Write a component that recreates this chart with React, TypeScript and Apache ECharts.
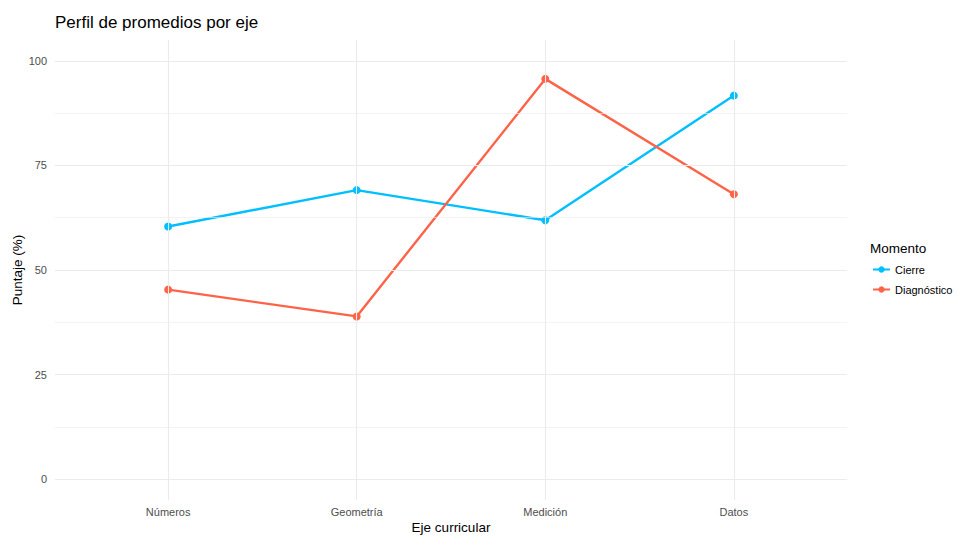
import React, { useEffect, useRef } from "react";
import * as echarts from "echarts";

const categories = ["Números", "Geometría", "Medición", "Datos"];
const cierre = [60.4, 69.1, 61.9, 91.7];
const diagnostico = [45.3, 38.9, 95.7, 68.1];
const yTicks = [0, 25, 50, 75, 100];
const yMinor = [12.5, 37.5, 62.5, 87.5];

const FONT = "Liberation Sans, Arial, sans-serif";
const GRID_COLOR = "#EBEBEB";

export default function App() {
  const ref = useRef<HTMLDivElement>(null);
  useEffect(() => {
    document.body.style.margin = "0";
    if (!ref.current) return;
    const chart = echarts.init(ref.current, undefined, { renderer: "svg" });
    const gridLines: any[] = [
      ...yTicks.map((v) => ({ yAxis: v, lineStyle: { color: GRID_COLOR, width: 1.1, type: "solid" } })),
      ...yMinor.map((v) => ({ yAxis: v, lineStyle: { color: GRID_COLOR, width: 0.6, type: "solid" } })),
      ...categories.map((_, i) => ({ xAxis: i, lineStyle: { color: GRID_COLOR, width: 1.1, type: "solid" } })),
    ];
    chart.setOption({
      animation: false,
      backgroundColor: "#ffffff",
      textStyle: { fontFamily: FONT },
      title: {
        text: "Perfil de promedios por eje",
        left: 50,
        top: 9,
        textStyle: { fontFamily: FONT, fontSize: 17, fontWeight: "normal", color: "#000000" },
      },
      grid: { left: 55, right: 111, top: 40, bottom: 36, containLabel: false, outerBoundsMode: "none" },
      legend: {
        orient: "vertical",
        left: 867,
        top: 259,
        itemWidth: 17,
        itemHeight: 8,
        itemGap: 9,
        data: ["Cierre", "Diagnóstico"],
        textStyle: { fontFamily: FONT, fontSize: 11, color: "#000000" },
      },
      graphic: [
        {
          type: "text",
          left: 870,
          top: 241,
          style: { text: "Momento", font: `13.5px ${FONT}`, fill: "#000000" },
        },
      ],
      xAxis: {
        type: "value",
        min: -0.6,
        max: 3.6,
        name: "Eje curricular",
        nameLocation: "middle",
        nameGap: 20,
        nameMoveOverlap: false,
        nameTextStyle: { fontFamily: FONT, fontSize: 13.5, color: "#000000" },
        axisLine: { show: false },
        axisTick: { show: false },
        splitLine: { show: false },
        axisLabel: {
          customValues: [0, 1, 2, 3],
          formatter: (v: number) => categories[Math.round(v)] ?? "",
          fontFamily: FONT,
          fontSize: 11,
          color: "#4D4D4D",
          margin: 6,
        },
      },
      yAxis: {
        type: "value",
        min: -5,
        max: 105,
        name: "Puntaje (%)",
        nameLocation: "middle",
        nameGap: 31,
        nameMoveOverlap: false,
        nameTextStyle: { fontFamily: FONT, fontSize: 13.5, color: "#000000" },
        axisLine: { show: false },
        axisTick: { show: false },
        splitLine: { show: false },
        axisLabel: {
          customValues: yTicks,
          fontFamily: FONT,
          fontSize: 11,
          color: "#4D4D4D",
          margin: 8,
        },
      },
      series: [
        {
          type: "line",
          name: "__grid",
          data: [],
          silent: true,
          markLine: {
            silent: true,
            symbol: "none",
            label: { show: false },
            emphasis: { disabled: true },
            data: gridLines,
          },
          z: 1,
        },
        {
          type: "line",
          name: "Cierre",
          data: categories.map((_, i) => [i, cierre[i]]),
          color: "#00BFFF",
          lineStyle: { width: 2.4, color: "#00BFFF" },
          itemStyle: { color: "#00BFFF", borderWidth: 0 },
          symbol: "circle",
          symbolSize: 8,
          z: 3,
        },
        {
          type: "line",
          name: "Diagnóstico",
          data: categories.map((_, i) => [i, diagnostico[i]]),
          color: "#FF6347",
          lineStyle: { width: 2.4, color: "#FF6347" },
          itemStyle: { color: "#FF6347", borderWidth: 0 },
          symbol: "circle",
          symbolSize: 8,
          z: 3,
        },
      ],
    });
    return () => chart.dispose();
  }, []);
  return <div ref={ref} style={{ width: 958, height: 536 }} />;
}
